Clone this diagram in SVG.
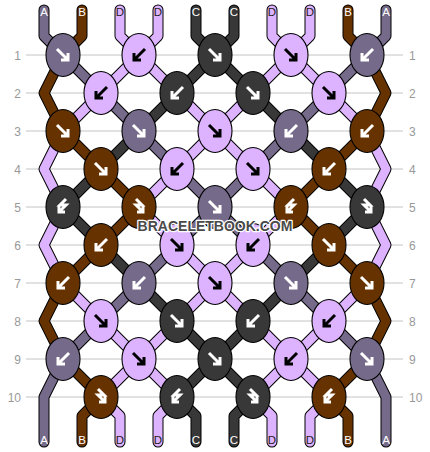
<svg xmlns="http://www.w3.org/2000/svg" xmlns:xlink="http://www.w3.org/1999/xlink" width="430" height="452" viewBox="0 0 430 452">
<style>
.grid line{stroke:#c4c4c4;stroke-width:1}
.num{font-family:"Liberation Sans",Arial,sans-serif;font-size:12px;fill:#999}
.o{fill:none;stroke:#000;stroke-width:11;stroke-linecap:round;stroke-linejoin:round}
.s{fill:none;stroke-width:9;stroke-linecap:round;stroke-linejoin:round}
.sA{stroke:#766a8a}.sB{stroke:#663300}.sC{stroke:#383838}.sD{stroke:#ddb3ff}
.k{stroke:#000;stroke-width:1.1}
.cA{fill:#766a8a}.cB{fill:#663300}.cC{fill:#383838}.cD{fill:#ddb3ff}
.aw{fill:none;stroke:#fff;stroke-width:3}
.ab{fill:none;stroke:#000;stroke-width:3}
.lbl{font-family:"Liberation Sans",Arial,sans-serif;font-size:11.5px;text-anchor:middle;fill:#fff}
.lbl .d{fill:#222}
.wm{font-family:"Liberation Sans",Arial,sans-serif;font-size:14px;font-weight:bold;text-anchor:middle;fill:#4a4a4a;stroke:#fff;stroke-width:2.5;paint-order:stroke;stroke-linejoin:round}
</style>
<defs>
<path id="A1" d="M44 10V36L63 55L101 93L139 131L177 169L215 207L177 245L139 283L101 321L63 359L44 397V442"/>
<path id="A2" d="M386 10V36L367 55L329 93L291 131L253 169L215 207L253 245L291 283L329 321L367 359L386 397V442"/>
<path id="B1" d="M82 10V36L63 55L44 93L63 131L101 169L139 207L101 245L63 283L44 321L63 359L101 397L82 416V442"/>
<path id="B2" d="M348 10V36L367 55L386 93L367 131L329 169L291 207L329 245L367 283L386 321L367 359L329 397L348 416V442"/>
<path id="C1" d="M196 10V36L215 55L177 93L139 131L101 169L63 207L101 245L139 283L177 321L215 359L177 397L196 416V442"/>
<path id="C2" d="M234 10V36L215 55L253 93L291 131L329 169L367 207L329 245L291 283L253 321L215 359L253 397L234 416V442"/>
<path id="D1" d="M120 10V36L139 55L101 93L63 131L44 169L63 207L44 245L63 283L101 321L139 359L101 397L120 416V442"/>
<path id="D2" d="M158 10V36L139 55L177 93L215 131L177 169L139 207L177 245L215 283L177 321L139 359L177 397L158 416V442"/>
<path id="D3" d="M272 10V36L291 55L253 93L215 131L253 169L291 207L253 245L215 283L253 321L291 359L253 397L272 416V442"/>
<path id="D4" d="M310 10V36L291 55L329 93L367 131L386 169L367 207L386 245L367 283L329 321L291 359L329 397L310 416V442"/>
<path id="se" d="M-6-6L5 5M-2 5H5V-2"/>
<path id="sw" d="M6-6L-5 5M2 5H-5V-2"/>
<path id="bf" d="M3-8L-3-2H3L-4 5M-4-1V5H2"/>
<path id="fb" d="M-3-8L3-2H-3L4 5M4-1V5H-2"/>
</defs>
<g id="grid" class="grid">
<line x1="26" y1="55" x2="403" y2="55"/><line x1="26" y1="93" x2="403" y2="93"/><line x1="26" y1="131" x2="403" y2="131"/><line x1="26" y1="169" x2="403" y2="169"/><line x1="26" y1="207" x2="403" y2="207"/><line x1="26" y1="245" x2="403" y2="245"/><line x1="26" y1="283" x2="403" y2="283"/><line x1="26" y1="321" x2="403" y2="321"/><line x1="26" y1="359" x2="403" y2="359"/><line x1="26" y1="397" x2="403" y2="397"/>
</g>
<g id="rownums" class="num">
<g text-anchor="end"><text x="21" y="59.5">1</text><text x="21" y="97.5">2</text><text x="21" y="135.5">3</text><text x="21" y="173.5">4</text><text x="21" y="211.5">5</text><text x="21" y="249.5">6</text><text x="21" y="287.5">7</text><text x="21" y="325.5">8</text><text x="21" y="363.5">9</text><text x="21" y="401.5">10</text></g>
<g><text x="409" y="59.5">1</text><text x="409" y="97.5">2</text><text x="409" y="135.5">3</text><text x="409" y="173.5">4</text><text x="409" y="211.5">5</text><text x="409" y="249.5">6</text><text x="409" y="287.5">7</text><text x="409" y="325.5">8</text><text x="409" y="363.5">9</text><text x="409" y="401.5">10</text></g>
</g>
<g id="connectors">
<g class="o"><use xlink:href="#A1"/><use xlink:href="#A2"/><use xlink:href="#B1"/><use xlink:href="#B2"/><use xlink:href="#C1"/><use xlink:href="#C2"/><use xlink:href="#D1"/><use xlink:href="#D2"/><use xlink:href="#D3"/><use xlink:href="#D4"/></g>
<g class="s"><use xlink:href="#A1" class="sA"/><use xlink:href="#A2" class="sA"/><use xlink:href="#B1" class="sB"/><use xlink:href="#B2" class="sB"/><use xlink:href="#C1" class="sC"/><use xlink:href="#C2" class="sC"/><use xlink:href="#D1" class="sD"/><use xlink:href="#D2" class="sD"/><use xlink:href="#D3" class="sD"/><use xlink:href="#D4" class="sD"/></g>
</g>
<g id="labels-top" class="lbl">
<text x="44" y="16">A</text><text x="82" y="16">B</text><text class="d" x="120" y="16">D</text><text class="d" x="158" y="16">D</text><text x="196" y="16">C</text><text x="234" y="16">C</text><text class="d" x="272" y="16">D</text><text class="d" x="310" y="16">D</text><text x="348" y="16">B</text><text x="386" y="16">A</text>
</g>
<g id="labels-bottom" class="lbl">
<text x="44" y="444">A</text><text x="82" y="444">B</text><text class="d" x="120" y="444">D</text><text class="d" x="158" y="444">D</text><text x="196" y="444">C</text><text x="234" y="444">C</text><text class="d" x="272" y="444">D</text><text class="d" x="310" y="444">D</text><text x="348" y="444">B</text><text x="386" y="444">A</text>
</g>
<g id="knots">
<g id="k1-1" transform="translate(63 55)"><ellipse class="k cA" rx="17" ry="21.5"/><use xlink:href="#se" class="aw"/></g>
<g id="k1-2" transform="translate(139 55)"><ellipse class="k cD" rx="17" ry="21.5"/><use xlink:href="#sw" class="ab"/></g>
<g id="k1-3" transform="translate(215 55)"><ellipse class="k cC" rx="17" ry="21.5"/><use xlink:href="#se" class="aw"/></g>
<g id="k1-4" transform="translate(291 55)"><ellipse class="k cD" rx="17" ry="21.5"/><use xlink:href="#se" class="ab"/></g>
<g id="k1-5" transform="translate(367 55)"><ellipse class="k cA" rx="17" ry="21.5"/><use xlink:href="#sw" class="aw"/></g>
<g id="k2-1" transform="translate(101 93)"><ellipse class="k cD" rx="17" ry="21.5"/><use xlink:href="#sw" class="ab"/></g>
<g id="k2-2" transform="translate(177 93)"><ellipse class="k cC" rx="17" ry="21.5"/><use xlink:href="#sw" class="aw"/></g>
<g id="k2-3" transform="translate(253 93)"><ellipse class="k cC" rx="17" ry="21.5"/><use xlink:href="#se" class="aw"/></g>
<g id="k2-4" transform="translate(329 93)"><ellipse class="k cD" rx="17" ry="21.5"/><use xlink:href="#se" class="ab"/></g>
<g id="k3-1" transform="translate(63 131)"><ellipse class="k cB" rx="17" ry="21.5"/><use xlink:href="#se" class="aw"/></g>
<g id="k3-2" transform="translate(139 131)"><ellipse class="k cA" rx="17" ry="21.5"/><use xlink:href="#se" class="aw"/></g>
<g id="k3-3" transform="translate(215 131)"><ellipse class="k cD" rx="17" ry="21.5"/><use xlink:href="#se" class="ab"/></g>
<g id="k3-4" transform="translate(291 131)"><ellipse class="k cA" rx="17" ry="21.5"/><use xlink:href="#sw" class="aw"/></g>
<g id="k3-5" transform="translate(367 131)"><ellipse class="k cB" rx="17" ry="21.5"/><use xlink:href="#sw" class="aw"/></g>
<g id="k4-1" transform="translate(101 169)"><ellipse class="k cB" rx="17" ry="21.5"/><use xlink:href="#se" class="aw"/></g>
<g id="k4-2" transform="translate(177 169)"><ellipse class="k cD" rx="17" ry="21.5"/><use xlink:href="#sw" class="ab"/></g>
<g id="k4-3" transform="translate(253 169)"><ellipse class="k cD" rx="17" ry="21.5"/><use xlink:href="#se" class="ab"/></g>
<g id="k4-4" transform="translate(329 169)"><ellipse class="k cB" rx="17" ry="21.5"/><use xlink:href="#sw" class="aw"/></g>
<g id="k5-1" transform="translate(63 207)"><ellipse class="k cC" rx="17" ry="21.5"/><use xlink:href="#bf" class="aw"/></g>
<g id="k5-2" transform="translate(139 207)"><ellipse class="k cB" rx="17" ry="21.5"/><use xlink:href="#fb" class="aw"/></g>
<g id="k5-3" transform="translate(215 207)"><ellipse class="k cA" rx="17" ry="21.5"/><use xlink:href="#se" class="aw"/></g>
<g id="k5-4" transform="translate(291 207)"><ellipse class="k cB" rx="17" ry="21.5"/><use xlink:href="#bf" class="aw"/></g>
<g id="k5-5" transform="translate(367 207)"><ellipse class="k cC" rx="17" ry="21.5"/><use xlink:href="#fb" class="aw"/></g>
<g id="k6-1" transform="translate(101 245)"><ellipse class="k cB" rx="17" ry="21.5"/><use xlink:href="#sw" class="aw"/></g>
<g id="k6-2" transform="translate(177 245)"><ellipse class="k cD" rx="17" ry="21.5"/><use xlink:href="#se" class="ab"/></g>
<g id="k6-3" transform="translate(253 245)"><ellipse class="k cD" rx="17" ry="21.5"/><use xlink:href="#sw" class="ab"/></g>
<g id="k6-4" transform="translate(329 245)"><ellipse class="k cB" rx="17" ry="21.5"/><use xlink:href="#se" class="aw"/></g>
<g id="k7-1" transform="translate(63 283)"><ellipse class="k cB" rx="17" ry="21.5"/><use xlink:href="#sw" class="aw"/></g>
<g id="k7-2" transform="translate(139 283)"><ellipse class="k cA" rx="17" ry="21.5"/><use xlink:href="#sw" class="aw"/></g>
<g id="k7-3" transform="translate(215 283)"><ellipse class="k cD" rx="17" ry="21.5"/><use xlink:href="#se" class="ab"/></g>
<g id="k7-4" transform="translate(291 283)"><ellipse class="k cA" rx="17" ry="21.5"/><use xlink:href="#se" class="aw"/></g>
<g id="k7-5" transform="translate(367 283)"><ellipse class="k cB" rx="17" ry="21.5"/><use xlink:href="#se" class="aw"/></g>
<g id="k8-1" transform="translate(101 321)"><ellipse class="k cD" rx="17" ry="21.5"/><use xlink:href="#se" class="ab"/></g>
<g id="k8-2" transform="translate(177 321)"><ellipse class="k cC" rx="17" ry="21.5"/><use xlink:href="#se" class="aw"/></g>
<g id="k8-3" transform="translate(253 321)"><ellipse class="k cC" rx="17" ry="21.5"/><use xlink:href="#sw" class="aw"/></g>
<g id="k8-4" transform="translate(329 321)"><ellipse class="k cD" rx="17" ry="21.5"/><use xlink:href="#sw" class="ab"/></g>
<g id="k9-1" transform="translate(63 359)"><ellipse class="k cA" rx="17" ry="21.5"/><use xlink:href="#sw" class="aw"/></g>
<g id="k9-2" transform="translate(139 359)"><ellipse class="k cD" rx="17" ry="21.5"/><use xlink:href="#se" class="ab"/></g>
<g id="k9-3" transform="translate(215 359)"><ellipse class="k cC" rx="17" ry="21.5"/><use xlink:href="#se" class="aw"/></g>
<g id="k9-4" transform="translate(291 359)"><ellipse class="k cD" rx="17" ry="21.5"/><use xlink:href="#sw" class="ab"/></g>
<g id="k9-5" transform="translate(367 359)"><ellipse class="k cA" rx="17" ry="21.5"/><use xlink:href="#se" class="aw"/></g>
<g id="k10-1" transform="translate(101 397)"><ellipse class="k cB" rx="17" ry="21.5"/><use xlink:href="#fb" class="aw"/></g>
<g id="k10-2" transform="translate(177 397)"><ellipse class="k cC" rx="17" ry="21.5"/><use xlink:href="#bf" class="aw"/></g>
<g id="k10-3" transform="translate(253 397)"><ellipse class="k cC" rx="17" ry="21.5"/><use xlink:href="#fb" class="aw"/></g>
<g id="k10-4" transform="translate(329 397)"><ellipse class="k cB" rx="17" ry="21.5"/><use xlink:href="#bf" class="aw"/></g>
</g>
<text id="watermark" class="wm" x="215" y="231">BRACELETBOOK.COM</text>
</svg>
